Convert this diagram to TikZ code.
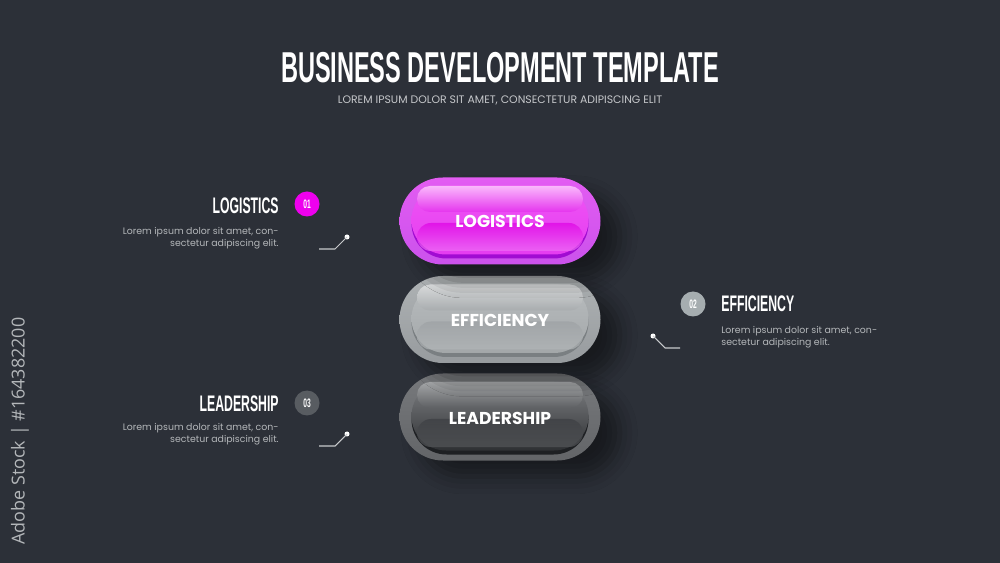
\documentclass[tikz,border=0pt]{standalone}
\usepackage{fontspec}
\setmainfont{Poppins}
\newfontfamily\condf{Liberation Sans}[FakeStretch=0.545]
\newfontfamily\stockf{Open Sans}
\usetikzlibrary{shapes.misc,shadows.blur}
\newlength\upx \setlength\upx{0.02cm}
\definecolor{bg}{HTML}{2C3038}
\definecolor{loremc}{HTML}{B4B7BA}
\definecolor{subc}{HTML}{C5C7CA}
\definecolor{connc}{HTML}{C8CACC}
\definecolor{mag}{HTML}{EE00EE}
\definecolor{num2}{HTML}{A6ADB0}
\definecolor{num3}{HTML}{585C61}
% magenta pill
\definecolor{mRt}{HTML}{E35CF2}\definecolor{mRb}{HTML}{CB52EC}
\definecolor{mRim}{HTML}{A10CD2}
\definecolor{mIt}{HTML}{EE55F5}\definecolor{mIm}{HTML}{DE00E4}\definecolor{mIb}{HTML}{E63CF0}
\definecolor{mGt}{HTML}{FAB8FC}\definecolor{mGb}{HTML}{E535EE}
\definecolor{mLo}{HTML}{EE70F6}
% gray pill
\definecolor{gRt}{HTML}{AEB2B4}\definecolor{gRb}{HTML}{979B9E}
\definecolor{gRim}{HTML}{7A7F82}
\definecolor{gIt}{HTML}{B8BCBE}\definecolor{gIm}{HTML}{9DA1A4}\definecolor{gIb}{HTML}{A3A7A9}
\definecolor{gGt}{HTML}{D8DADB}\definecolor{gGb}{HTML}{A8ACAE}
\definecolor{gLo}{HTML}{B2B6B8}
% dark pill
\definecolor{dRt}{HTML}{77797C}\definecolor{dRb}{HTML}{636568}
\definecolor{dRim}{HTML}{1E2023}
\definecolor{dIt}{HTML}{7E8083}\definecolor{dIm}{HTML}{3C3E42}\definecolor{dIb}{HTML}{2E3033}
\definecolor{dGt}{HTML}{A4A6A8}\definecolor{dGb}{HTML}{5E6063}
\definecolor{dLo}{HTML}{55575A}
\begin{document}
\begin{tikzpicture}[x=0.02cm,y=-0.02cm,
  pillouter/.style={rounded rectangle, minimum width=201\upx, minimum height=87\upx, inner sep=0pt, draw=none,
     blur shadow={shadow xshift=11pt, shadow yshift=-9pt, shadow blur radius=10pt, shadow opacity=45}},
  pillrim/.style={rounded rectangle, minimum width=177\upx, minimum height=70\upx, inner sep=0pt, draw=none},
  pillinner/.style={rounded rectangle, minimum width=177\upx, minimum height=69\upx, inner sep=0pt, draw=none},
  pillgloss/.style={rounded rectangle, minimum width=166\upx, minimum height=26\upx, inner sep=0pt, draw=none},
  pilllow/.style={rounded rectangle, minimum width=166\upx, minimum height=28\upx, inner sep=0pt, draw=none, opacity=0.7},
  pilltext/.style={text=white, inner sep=0pt, font=\bfseries\fontsize{9.8}{11}\selectfont},
  head/.style={text=white, inner sep=0pt, font=\condf\bfseries\fontsize{12.8}{14}\selectfont},
  lorem/.style={text=loremc, inner sep=0pt, font=\fontsize{5.35}{6.9}\selectfont},
  numc/.style={circle, minimum size=25\upx, inner sep=0pt, text=white, font=\condf\bfseries\fontsize{7}{8}\selectfont},
  conn/.style={draw=connc, line width=0.6pt},
  dotn/.style={circle, fill=white, minimum size=5\upx, inner sep=0pt}
]
\useasboundingbox (0,0) rectangle (1000,563);
\fill[bg] (0,0) rectangle (1000,563);

% vertical stock label
\node[rotate=90, text=loremc, inner sep=0pt, font=\stockf\fontsize{10.2}{11}\selectfont] (stock) at (20,431) {Adobe Stock | \#164382200};

% title
\node[text=white, inner sep=0pt, font=\condf\bfseries\fontsize{24.6}{26}\selectfont] (title) at (500,67.5) {BUSINESS DEVELOPMENT TEMPLATE};
\node[text=subc, inner sep=0pt, font=\fontsize{6.2}{7}\selectfont] (sub) at (500,100) {LOREM IPSUM DOLOR SIT AMET, CONSECTETUR ADIPISCING ELIT};

% pill 3 (dark)
\node[pillouter, top color=dRt, bottom color=dRb] (p3) at (500,417) {};
\node[pillrim, fill=dRim] (p3rim) at ([yshift=-2.5\upx]p3.center) {};
\node[pillinner, top color=dIt, middle color=dIm, bottom color=dIb] (p3in) at ([yshift=1\upx]p3.center) {};
\node[pilllow, top color=dIm, bottom color=dLo] (p3lo) at ([yshift=-16\upx]p3.center) {};
\node[pillgloss, top color=dGt, bottom color=dGb] (p3gl) at ([yshift=22\upx]p3.center) {};
\node[pilltext] (t3) at (500,418) {LEADERSHIP};

% pill 2 (gray)
\node[pillouter, top color=gRt, bottom color=gRb] (p2) at (500,319.5) {};
\node[pillrim, fill=gRim] (p2rim) at ([yshift=-2.5\upx]p2.center) {};
\node[pillinner, top color=gIt, middle color=gIm, bottom color=gIb] (p2in) at ([yshift=1\upx]p2.center) {};
\node[pilllow, top color=gIm, bottom color=gLo] (p2lo) at ([yshift=-16\upx]p2.center) {};
\node[pillgloss, top color=gGt, bottom color=gGb] (p2gl) at ([yshift=22\upx]p2.center) {};
\node[pilltext] (t2) at (500,320) {EFFICIENCY};

% pill 1 (magenta)
\node[pillouter, top color=mRt, bottom color=mRb] (p1) at (500,221) {};
\node[pillrim, fill=mRim] (p1rim) at ([yshift=-2.5\upx]p1.center) {};
\node[pillinner, top color=mIt, middle color=mIm, bottom color=mIb] (p1in) at ([yshift=1\upx]p1.center) {};
\node[pilllow, top color=mIm, bottom color=mLo] (p1lo) at ([yshift=-16\upx]p1.center) {};
\node[pillgloss, top color=mGt, bottom color=mGb] (p1gl) at ([yshift=22\upx]p1.center) {};
\node[pilltext] (t1) at (500,221) {LOGISTICS};

% left: logistics
\node[head, anchor=east] (h1) at (279,205.5) {LOGISTICS};
\node[numc, fill=mag] (n1) at (307,204) {01};
\node[lorem, anchor=east, align=right] (l1) at (279,238) {Lorem ipsum dolor sit amet, con-\\sectetur adipiscing elit.};
\coordinate (c1s) at (319,249);
\coordinate (c1m) at (335,249);
\node[dotn] (d1) at (347,237) {};
\draw[conn] (c1s) -- (c1m) -- (d1.center);

% right: efficiency
\node[numc, fill=num2] (n2) at (693,304) {02};
\node[head, anchor=west] (h2) at (721,303.5) {EFFICIENCY};
\node[lorem, anchor=west, align=left] (l2) at (721,337) {Lorem ipsum dolor sit amet, con-\\sectetur adipiscing elit.};
\node[dotn] (d2) at (653,336) {};
\coordinate (c2m) at (665,348);
\coordinate (c2e) at (680,348);
\draw[conn] (d2.center) -- (c2m) -- (c2e);

% left: leadership
\node[head, anchor=east] (h3) at (279,403.5) {LEADERSHIP};
\node[numc, fill=num3] (n3) at (307,403) {03};
\node[lorem, anchor=east, align=right] (l3) at (279,434.5) {Lorem ipsum dolor sit amet, con-\\sectetur adipiscing elit.};
\coordinate (c3s) at (319,446);
\coordinate (c3m) at (335,446);
\node[dotn] (d3) at (347,434) {};
\draw[conn] (c3s) -- (c3m) -- (d3.center);
\end{tikzpicture}
\end{document}
